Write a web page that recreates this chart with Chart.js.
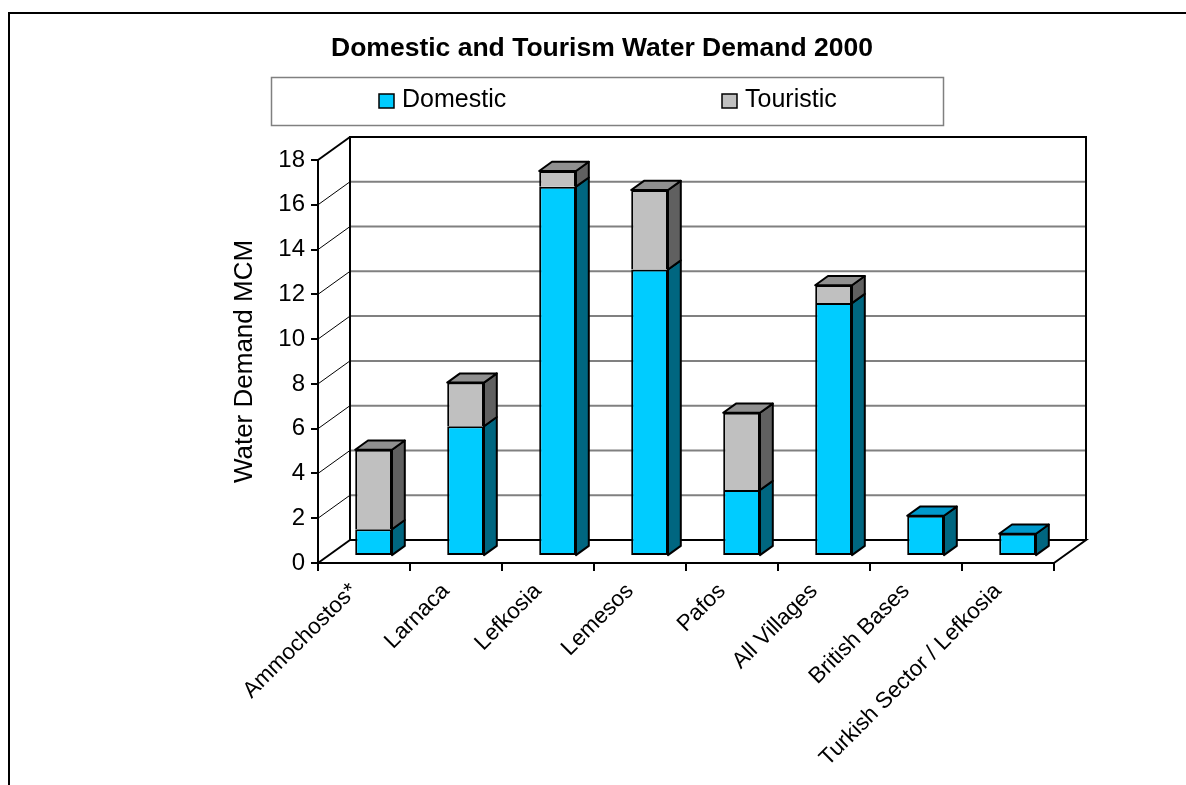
<!DOCTYPE html>
<html lang="en">
<head>
  <meta charset="UTF-8" />
  <title>Domestic and Tourism Water Demand 2000</title>
  <script src="https://cdn.jsdelivr.net/npm/chart.js"></script>
  <style>
    body {
      margin: 0;
      background: #fff;
    }
    #wrap {
      width: 1186px;
      height: 785px;
    }
  </style>
</head>
<body>
  <div id="wrap"><canvas id="demandChart" width="1186" height="785"></canvas></div>

  <script>
    const chartTitle = 'Domestic and Tourism Water Demand 2000';
    const categories = ['Ammochostos*', 'Larnaca', 'Lefkosia', 'Lemesos', 'Pafos', 'All Villages', 'British Bases', 'Turkish Sector / Lefkosia'];
    const domestic = [1.2, 5.8, 16.5, 12.8, 2.95, 11.3, 1.8, 1.0];
    const touristic = [3.55, 1.95, 0.7, 3.55, 3.45, 0.8, 0, 0];

    const FONT = "'Liberation Sans', Arial, sans-serif";
    Chart.defaults.font.family = FONT;
    Chart.defaults.color = '#000';

    // 3d look: depth of the floor, bars sit between 30% and 70% of it
    const depth = { x: 32, y: -23 };
    const front = { x: depth.x * 0.3, y: depth.y * 0.3 };
    const thick = { x: depth.x * 0.4, y: depth.y * 0.4 };

    const faces = [
      { side: '#006680', top: '#0099cc' },
      { side: '#606060', top: '#909090' }
    ];

    function line(ctx, x1, y1, x2, y2) {
      ctx.beginPath();
      ctx.moveTo(x1, y1);
      ctx.lineTo(x2, y2);
      ctx.stroke();
    }

    const box3d = {
      id: 'box3d',
      beforeDraw(chart) {
        const { ctx, chartArea: a } = chart;
        const y = chart.scales.y;
        const bl = a.left + depth.x, br = a.right + depth.x;
        ctx.save();

        // outer frame
        ctx.strokeStyle = '#000';
        ctx.lineWidth = 2;
        ctx.beginPath();
        ctx.moveTo(9, 785);
        ctx.lineTo(9, 13);
        ctx.lineTo(1186, 13);
        ctx.stroke();

        // side wall diagonals + back wall grid
        y.ticks.forEach(t => {
          const py = y.getPixelForValue(t.value);
          const edge = t.value === y.min || t.value === y.max;
          ctx.strokeStyle = '#000';
          ctx.lineWidth = edge ? 2 : 1;
          line(ctx, a.left, py, bl, py + depth.y);
          if (!edge) {
            ctx.strokeStyle = '#808080';
            ctx.lineWidth = 2;
            line(ctx, bl, py + depth.y, br, py + depth.y);
          }
        });

        ctx.strokeStyle = '#000';
        ctx.lineWidth = 2;
        // back wall
        ctx.beginPath();
        ctx.moveTo(bl, a.bottom + depth.y);
        ctx.lineTo(bl, a.top + depth.y);
        ctx.lineTo(br, a.top + depth.y);
        ctx.lineTo(br, a.bottom + depth.y);
        ctx.stroke();
        // floor
        ctx.beginPath();
        ctx.moveTo(bl, a.bottom + depth.y);
        ctx.lineTo(br, a.bottom + depth.y);
        ctx.lineTo(a.right, a.bottom);
        ctx.stroke();

        // title
        ctx.fillStyle = '#000';
        ctx.font = 'bold 26.5px ' + FONT;
        ctx.textAlign = 'center';
        ctx.textBaseline = 'alphabetic';
        ctx.fillText(chartTitle, 602, 56);

        // legend box
        ctx.strokeStyle = '#808080';
        ctx.lineWidth = 1.5;
        ctx.strokeRect(271.5, 77.5, 672, 48);
        const itemX = [379, 722];
        ctx.font = '25px ' + FONT;
        ctx.textAlign = 'left';
        chart.data.datasets.forEach((ds, i) => {
          ctx.fillStyle = ds.backgroundColor;
          ctx.fillRect(itemX[i], 94, 15, 14);
          ctx.strokeStyle = '#000';
          ctx.lineWidth = 1.5;
          ctx.strokeRect(itemX[i], 94, 15, 14);
          ctx.fillStyle = '#000';
          ctx.fillText(ds.label, itemX[i] + 23, 107);
        });
        ctx.restore();
      },
      beforeDatasetsDraw(chart) {
        chart.ctx.save();
        chart.ctx.translate(front.x, front.y);
      },
      afterDatasetsDraw(chart) {
        const ctx = chart.ctx;
        const metas = chart.data.datasets.map((ds, d) => chart.getDatasetMeta(d));
        ctx.strokeStyle = '#000';
        ctx.lineWidth = 2;
        ctx.lineJoin = 'round';
        categories.forEach((c, i) => {
          let topIdx = -1;
          metas.forEach((meta, d) => {
            if (chart.data.datasets[d].data[i] > 0) topIdx = d;
          });
          metas.forEach((meta, d) => {
            if (!(chart.data.datasets[d].data[i] > 0)) return;
            const bar = meta.data[i];
            const l = bar.x - bar.width / 2, r = bar.x + bar.width / 2;
            const t = Math.min(bar.y, bar.base), b = Math.max(bar.y, bar.base);
            ctx.fillStyle = faces[d].side;
            ctx.beginPath();
            ctx.moveTo(r, t);
            ctx.lineTo(r + thick.x, t + thick.y);
            ctx.lineTo(r + thick.x, b + thick.y);
            ctx.lineTo(r, b);
            ctx.closePath();
            ctx.fill();
            ctx.stroke();
            if (d === topIdx) {
              ctx.fillStyle = faces[d].top;
              ctx.beginPath();
              ctx.moveTo(l, t);
              ctx.lineTo(l + thick.x, t + thick.y);
              ctx.lineTo(r + thick.x, t + thick.y);
              ctx.lineTo(r, t);
              ctx.closePath();
              ctx.fill();
              ctx.stroke();
            }
          });
        });
        ctx.restore();
      }
    };

    new Chart(document.getElementById('demandChart'), {
      type: 'bar',
      data: {
        labels: categories,
        datasets: [
          {
            label: 'Domestic',
            data: domestic,
            backgroundColor: '#00ccff',
            borderColor: '#000',
            borderWidth: 2,
            borderSkipped: false
          },
          {
            label: 'Touristic',
            data: touristic,
            backgroundColor: '#c0c0c0',
            borderColor: '#000',
            borderWidth: 2
          }
        ]
      },
      options: {
        responsive: false,
        devicePixelRatio: 1,
        animation: false,
        events: [],
        clip: false,
        categoryPercentage: 1,
        barPercentage: 0.4,
        layout: {
          padding: { left: 225, top: 160, right: 132, bottom: 0 }
        },
        plugins: {
          legend: { display: false },
          title: { display: false },
          tooltip: { enabled: false }
        },
        scales: {
          x: {
            stacked: true,
            afterFit(scale) { scale.height = 222; },
            grid: { drawOnChartArea: false, tickLength: 8, color: '#000', lineWidth: 2 },
            border: { color: '#000', width: 2 },
            ticks: {
              minRotation: 45,
              maxRotation: 45,
              padding: 7,
              labelOffset: -10,
              font: { size: 22.5 },
              color: '#000'
            }
          },
          y: {
            stacked: true,
            min: 0,
            max: 18,
            afterFit(scale) { scale.width = 93; },
            grid: { drawOnChartArea: false, tickLength: 7, color: '#000', lineWidth: 2 },
            border: { color: '#000', width: 2 },
            ticks: { stepSize: 2, padding: 6, font: { size: 24 }, color: '#000' },
            title: {
              display: true,
              text: 'Water Demand MCM',
              font: { size: 26 },
              color: '#000'
            }
          }
        }
      },
      plugins: [box3d]
    });
  </script>
</body>
</html>
